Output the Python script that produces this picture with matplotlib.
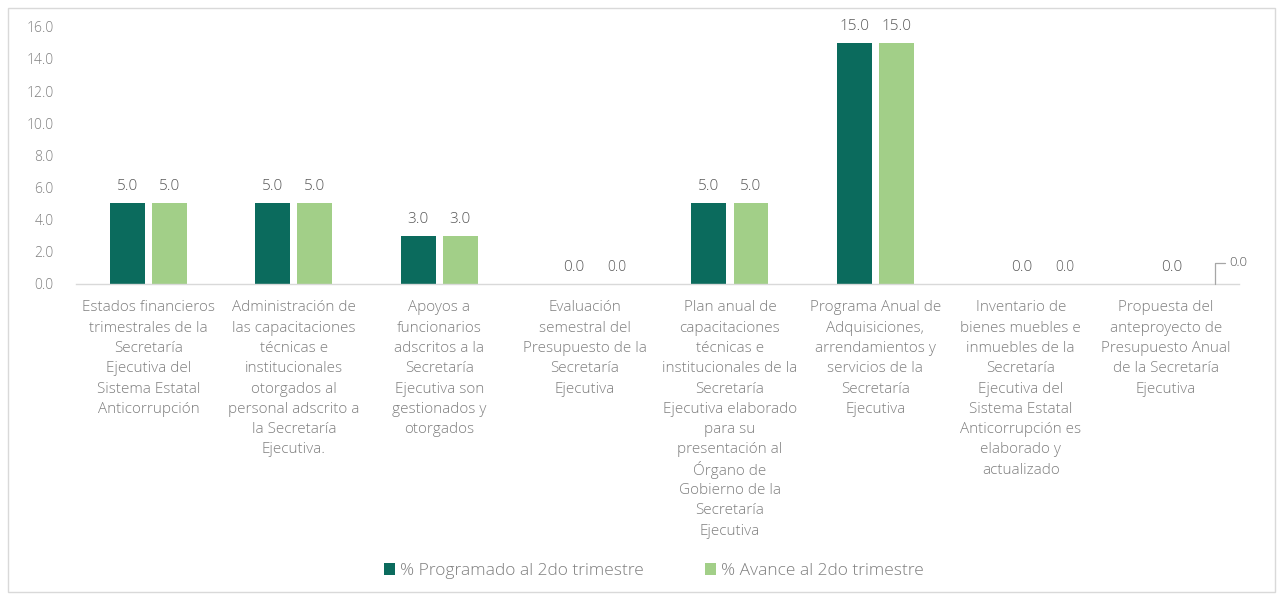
import matplotlib
matplotlib.use("Agg")
import matplotlib.pyplot as plt
from matplotlib.patches import Rectangle
from matplotlib.transforms import ScaledTranslation
import numpy as np

plt.rcParams['font.family'] = ['Open Sans', 'DejaVu Sans']

categories = [
    "Estados financieros\ntrimestrales de la\nSecretaría\nEjecutiva del\nSistema Estatal\nAnticorrupción",
    "Administración de\nlas capacitaciones\ntécnicas e\ninstitucionales\notorgados al\npersonal adscrito a\nla Secretaría\nEjecutiva.",
    "Apoyos a\nfuncionarios\nadscritos a la\nSecretaría\nEjecutiva son\ngestionados y\notorgados",
    "Evaluación\nsemestral del\nPresupuesto de la\nSecretaría\nEjecutiva",
    "Plan anual de\ncapacitaciones\ntécnicas e\ninstitucionales de la\nSecretaría\nEjecutiva elaborado\npara su\npresentación al\nÓrgano de\nGobierno de la\nSecretaría\nEjecutiva",
    "Programa Anual de\nAdquisiciones,\narrendamientos y\nservicios de la\nSecretaría\nEjecutiva",
    "Inventario de\nbienes muebles e\ninmuebles de la\nSecretaría\nEjecutiva del\nSistema Estatal\nAnticorrupción es\nelaborado y\nactualizado",
    "Propuesta del\nanteproyecto de\nPresupuesto Anual\nde la Secretaría\nEjecutiva",
]
programado = [5.0, 5.0, 3.0, 0.0, 5.0, 15.0, 0.0, 0.0]
avance = [5.0, 5.0, 3.0, 0.0, 5.0, 15.0, 0.0, 0.0]
series_names = ["% Programado al 2do trimestre", "% Avance al 2do trimestre"]
yticks = [0, 2, 4, 6, 8, 10, 12, 14, 16]

# label placement tweaks (pixels) for zero-valued labels, as laid out in the original
prog_dx = {3: 10, 6: 22, 7: 27}
avan_dx = {3: 11, 6: 23}

dark = "#0b6b5d"
light = "#a2cf88"
grey = "#7f7f7f"
lblgrey = "#595959"

fig = plt.figure(figsize=(12.85, 5.95), dpi=100)
ax = fig.add_axes([0.059, 0.523, 0.905, 0.432])

x = np.arange(len(categories))
w = 0.24
off = 0.145
b1 = ax.bar(x - off, programado, w, color=dark, label=series_names[0])
b2 = ax.bar(x + off, avance, w, color=light, label=series_names[1])

for i, v in enumerate(programado):
    ax.annotate(f"{v:.1f}", (x[i] - off, v), xytext=(prog_dx.get(i, 0), 9),
                textcoords="offset pixels",
                ha="center", va="bottom", fontsize=11, color=lblgrey, fontweight="light")
for i, v in enumerate(avance):
    if i == len(avance) - 1:
        xy_tr = ax.transData + ScaledTranslation(0.28, 0, fig.dpi_scale_trans)
        ax.annotate(f"{v:.1f}", (x[i] + off, v), xycoords=xy_tr,
                    xytext=(14, 21), textcoords="offset pixels",
                    ha="left", va="center", fontsize=9.5, color=lblgrey, fontweight="light",
                    arrowprops=dict(arrowstyle="-", color="#a6a6a6", lw=0.9,
                                    connectionstyle="angle,angleA=0,angleB=90,rad=0",
                                    shrinkA=1, shrinkB=0))
    else:
        fs = 10 if v == 0 else 11
        ax.annotate(f"{v:.1f}", (x[i] + off, v), xytext=(avan_dx.get(i, 0), 9),
                    textcoords="offset pixels",
                    ha="center", va="bottom", fontsize=fs, color=lblgrey, fontweight="light")

ax.set_xlim(-0.5, len(categories) - 0.5)
ax.set_ylim(0, 16)
ax.set_yticks(yticks)
ax.set_yticklabels([f"{t:.1f}" for t in yticks], fontsize=10, color=grey, fontweight="light")
ax.set_xticks(x)
ax.set_xticklabels([])
ax.tick_params(axis="both", length=0)
ax.tick_params(axis="y", pad=16)

# category labels, one line at a time for even spacing
base = ax.get_xaxis_transform()
line_px = 20.3
first_px = 24
for i, lab in enumerate(categories):
    for j, line in enumerate(lab.split("\n")):
        dy = -(first_px + j * line_px) / 100.0
        tr = base + ScaledTranslation(0, dy, fig.dpi_scale_trans)
        ax.text(x[i], 0, line, transform=tr, ha="center", va="center",
                fontsize=11, color=grey, fontweight="light")

for s in ["top", "right", "left"]:
    ax.spines[s].set_visible(False)
ax.spines["bottom"].set_color("#d9d9d9")
ax.spines["bottom"].set_linewidth(1.0)

leg = fig.legend(handles=[b1, b2], loc="center", bbox_to_anchor=(0.509, 0.04),
                 ncol=2, frameon=False, prop=dict(size=12.5, weight="light"),
                 handlelength=0.65, handleheight=0.65,
                 handletextpad=0.3, columnspacing=3.5)
for t in leg.get_texts():
    t.set_color(grey)

fig.patches.append(Rectangle((0.006, 0.005), 0.986, 0.982, transform=fig.transFigure,
                             fill=False, edgecolor="#d9d9d9", lw=1.0))

fig.savefig("out.png", dpi=100)
